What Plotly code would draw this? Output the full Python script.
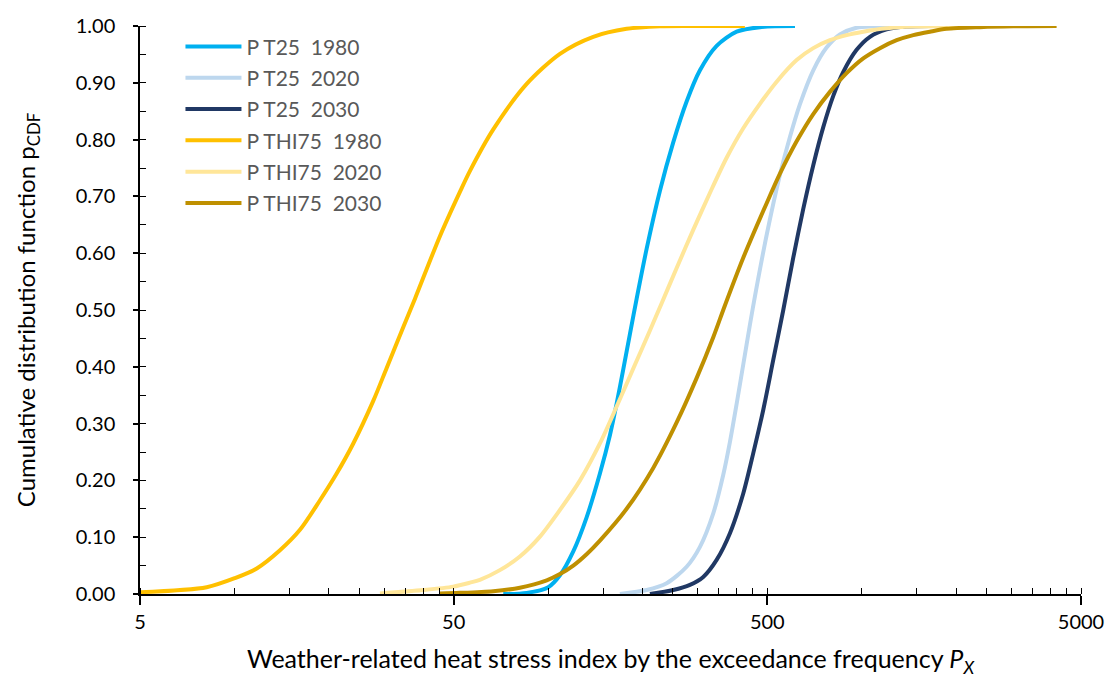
import plotly.graph_objects as go

# Empirical CDFs of the heat stress index (x = P_X, y = p_CDF)
t25_1980_x = [71.95, 85.5, 100.1, 109.1, 120.3, 132.7, 146.3, 157.5, 165.4, 173.7, 182.4, 191.6,
              206.2, 227.3, 250.6, 276.5, 304.9, 344.6, 399.2, 473.5, 612.5]
t25_1980_p = [0.0, 0.002, 0.012, 0.033, 0.075, 0.135, 0.212, 0.28, 0.335, 0.396, 0.458, 0.52,
              0.608, 0.71, 0.795, 0.867, 0.922, 0.965, 0.99, 0.998, 1.0]

t25_2020_x = [169.4, 206.2, 238.8, 276.5, 304.9, 336.2, 361.8, 380.0, 399.2, 419.0, 440.0, 456.5,
              497.5, 548.5, 590.5, 635.0, 700.5, 772.5, 851.9, 963.0, 1390.0]
t25_2020_p = [0.0, 0.007, 0.019, 0.048, 0.083, 0.142, 0.21, 0.268, 0.335, 0.404, 0.474, 0.524,
              0.632, 0.738, 0.805, 0.862, 0.922, 0.962, 0.985, 0.997, 1.0]

t25_2030_x = [211.2, 250.6, 283.3, 312.4, 344.6, 380.0, 419.0, 451.0, 485.2, 522.2, 562.1, 604.8,
              650.9, 700.5, 753.9, 811.3, 873.1, 963.0, 1062.0, 1200.0, 1390.0, 1650.0]
t25_2030_p = [0.0, 0.007, 0.016, 0.03, 0.06, 0.107, 0.177, 0.248, 0.324, 0.412, 0.50, 0.592,
              0.678, 0.755, 0.822, 0.877, 0.919, 0.958, 0.981, 0.994, 0.999, 1.0]

thi75_1980_x = [5.0, 8.16, 10.04, 11.78, 13.97, 16.18, 18.74, 21.18, 23.93, 27.71, 30.58, 34.55,
                37.64, 45.2, 52.35, 56.36, 66.87, 85.46, 109.1, 139.3, 178.0, 227.0, 290.0, 424.0]
thi75_1980_p = [0.003, 0.012, 0.028, 0.045, 0.077, 0.113, 0.165, 0.212, 0.265, 0.34, 0.398, 0.47,
                0.52, 0.63, 0.708, 0.745, 0.818, 0.898, 0.951, 0.981, 0.995, 0.9995, 1.0, 1.0]

thi75_2020_x = [29.1, 40.0, 49.85, 56.35, 60.6, 70.2, 81.3, 94.2, 109.1, 126.4, 146.3, 165.4, 186.9,
                211.2, 230.2, 257.0, 290.2, 328.0, 370.9, 419.0, 473.5, 535.5, 620.0, 700.5,
                791.6, 894.6, 1011.0, 1200.0, 1460.0, 2100.0]
thi75_2020_p = [0.001, 0.007, 0.013, 0.02, 0.025, 0.042, 0.066, 0.101, 0.148, 0.20, 0.265, 0.33, 0.397,
                0.464, 0.512, 0.574, 0.641, 0.706, 0.768, 0.82, 0.863, 0.902, 0.94, 0.961,
                0.975, 0.984, 0.99, 0.996, 0.999, 1.0]

thi75_2030_x = [45.2, 52.35, 66.87, 81.3, 99.0, 109.1, 120.3, 132.7, 146.3, 178.0, 216.4, 257.0,
                297.5, 336.2, 366.2, 419.0, 497.5, 548.5, 620.0, 700.5, 791.6, 894.6, 1011.0,
                1143.0, 1292.0, 1460.0, 1650.0, 1864.0, 2380.0, 3040.0, 4180.0]
thi75_2030_p = [0.001, 0.002, 0.005, 0.011, 0.024, 0.035, 0.05, 0.07, 0.094, 0.15, 0.222, 0.302,
                0.38, 0.452, 0.508, 0.592, 0.688, 0.74, 0.797, 0.845, 0.884, 0.917, 0.943,
                0.961, 0.975, 0.984, 0.99, 0.995, 0.998, 0.9995, 1.0]

series_names = ["P T25\u00a0\u00a01980", "P T25\u00a0\u00a02020", "P T25\u00a0\u00a02030",
                "P THI75\u00a0\u00a01980", "P THI75\u00a0\u00a02020", "P THI75\u00a0\u00a02030"]
series_colors = ["#00B0F0", "#BDD7EE", "#203864", "#FFC000", "#FFE699", "#BF9000"]

x_tickvals = [5, 50, 500, 5000]
x_minor_vals = [m * 5 * 10 ** d for d in range(3) for m in range(1, 10)] + [5000]
y_tickvals = [round(0.1 * i, 2) for i in range(11)]

series = [
    (t25_1980_x, t25_1980_p),
    (t25_2020_x, t25_2020_p),
    (t25_2030_x, t25_2030_p),
    (thi75_1980_x, thi75_1980_p),
    (thi75_2020_x, thi75_2020_p),
    (thi75_2030_x, thi75_2030_p),
]

FONT = "Lato"

fig = go.Figure()
for i, ((xs, ps), name, color) in enumerate(zip(series, series_names, series_colors)):
    fig.add_trace(go.Scatter(
        x=xs, y=ps, mode="lines", name=name, legendgroup=f"g{i}",
        line=dict(color=color, width=4, shape="spline", smoothing=0.8),
        hoverinfo="x+y",
    ))

fig.update_layout(
    width=1108, height=680,
    margin=dict(l=140, r=27, t=26, b=86),
    paper_bgcolor="white", plot_bgcolor="white",
    font=dict(family=FONT, color="#000000", size=20),
    showlegend=True,
    legend=dict(
        x=0.043, y=0.9995, xanchor="left", yanchor="top",
        bgcolor="rgba(0,0,0,0)", borderwidth=0,
        font=dict(family=FONT, size=21, color="#595959"),
        itemwidth=56, tracegroupgap=1,
    ),
    xaxis=dict(
        type="log", range=[0.69897, 3.69897], automargin=False,
        tickmode="array", tickvals=x_tickvals, ticktext=[str(v) for v in x_tickvals],
        ticks="outside", ticklen=9, tickwidth=1.5, tickcolor="black",
        minor=dict(tickmode="array", tickvals=x_minor_vals, ticks="inside",
                   ticklen=6, tickwidth=1.2, tickcolor="black", showgrid=False),
        showline=True, linecolor="black", linewidth=1.5,
        showgrid=False, zeroline=False,
        tickfont=dict(family=FONT, size=20, color="#000000"),
        title=dict(text="Weather-related heat stress index by the exceedance frequency <i>P<sub>X</sub></i>",
                   font=dict(family=FONT, size=25, color="#000000"), standoff=19),
    ),
    yaxis=dict(
        range=[0, 1], automargin=False,
        tickmode="array", tickvals=y_tickvals, tickformat=".2f",
        ticks="outside", ticklen=5, tickwidth=1.5, tickcolor="black",
        ticklabelstandoff=14,
        minor=dict(dtick=0.05, ticks="inside", ticklen=6, tickwidth=1.2,
                   tickcolor="black", showgrid=False),
        showline=True, linecolor="black", linewidth=1.5,
        showgrid=False, zeroline=False,
        tickfont=dict(family=FONT, size=20, color="#000000"),
        title=dict(text="Cumulative distribution function p<sub>CDF</sub>",
                   font=dict(family=FONT, size=24, color="#000000"), standoff=33),
    ),
)

fig.write_html("out.html")
